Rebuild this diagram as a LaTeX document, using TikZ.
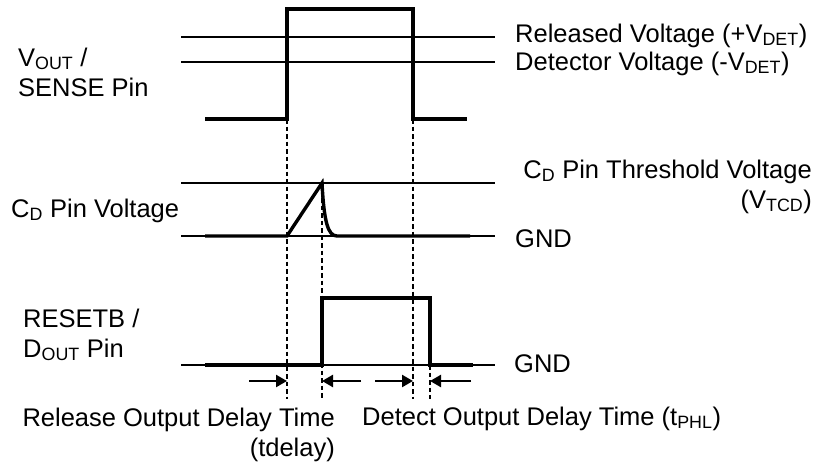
\documentclass[tikz,border=0pt]{standalone}
\usepackage{fontspec}
\setmainfont{Liberation Sans}
\usetikzlibrary{arrows.meta}
\begin{document}
\begin{tikzpicture}[x=1pt, y=-1pt,
    level/.style={line width=1.2pt},
    wave/.style={line width=3.4pt},
    guide/.style={line width=1.1pt, dash pattern=on 4.5pt off 3pt},
    delay/.style={line width=2.4pt, -{Triangle[length=11pt,width=12pt]}},
    label/.style={inner sep=0pt, font=\fontsize{25.5}{30}\selectfont}]
    \useasboundingbox (0,0) rectangle (817,466);

    % VOUT / SENSE pin
    \draw[level] (181,37) -- (495,37);
    \draw[level] (181,62) -- (495,62);
    \draw[wave] (205,119) -- (287,119) -- (287,9) -- (413,9) -- (413,119) -- (467,119);
    \coordinate (rise) at (287,119);
    \coordinate (fall) at (413,119);

    % CD pin
    \draw[level] (181,183) -- (495,183);
    \draw[level] (181,236) -- (495,236);
    \draw[wave] (205,236) -- (287,236) -- (322,183)
        .. controls (324,222) and (328,236) .. (337,236) -- (470,236);
    \coordinate (peak) at (322,183);

    % RESETB / DOUT pin
    \draw[level] (181,365) -- (495,365);
    \draw[wave] (205,365) -- (322,365) -- (322,298) -- (430,298) -- (430,365) -- (473,365);
    \coordinate (reset) at (430,365);

    % Guides
    \coordinate (g1) at (287,399);
    \coordinate (g2) at (322,399);
    \coordinate (g3) at (413,399);
    \coordinate (g4) at (430,399);
    \draw[guide] (rise) -- (g1);
    \draw[guide] (peak) -- (g2);
    \draw[guide] (fall) -- (g3);
    \draw[guide] (reset) -- (g4);

    % Delay arrows
    \coordinate (a1) at (249,381);
    \coordinate (b1) at (287,381);
    \coordinate (a2) at (361,381);
    \coordinate (b2) at (322,381);
    \coordinate (a3) at (375,381);
    \coordinate (b3) at (413,381);
    \coordinate (a4) at (471,381);
    \coordinate (b4) at (430,381);
    \draw[delay] (a1) -- (b1);
    \draw[delay] (a2) -- (b2);
    \draw[delay] (a3) -- (b3);
    \draw[delay] (a4) -- (b4);

    % Signal names
    \node[label, anchor=base west, align=left] (vout) at (18,96) {V\textsubscript{OUT} /\\SENSE Pin};
    \node[label, anchor=base west] (cd) at (11,217) {C\textsubscript{D} Pin Voltage};
    \node[label, anchor=base west, align=left] (resetb) at (23,357) {RESETB /\\D\textsubscript{OUT} Pin};

    % Levels
    \node[label, anchor=base west] (vrel) at (515,42) {Released Voltage (+V\textsubscript{DET})};
    \node[label, anchor=base west] (vdet) at (515,70) {Detector Voltage (-V\textsubscript{DET})};
    \node[label, anchor=base east, align=right] (vtcd) at (812,208) {C\textsubscript{D} Pin Threshold Voltage\\(V\textsubscript{TCD})};
    \node[label, anchor=base west] (gnd1) at (515,247) {GND};
    \node[label, anchor=base west] (gnd2) at (514,372) {GND};

    % Delay times
    \node[label, anchor=base east, align=right] (tdelay) at (335,456) {Release Output Delay Time\\(tdelay)};
    \node[label, anchor=base west] (tphl) at (362,425) {Detect Output Delay Time (t\textsubscript{PHL})};
\end{tikzpicture}
\end{document}
